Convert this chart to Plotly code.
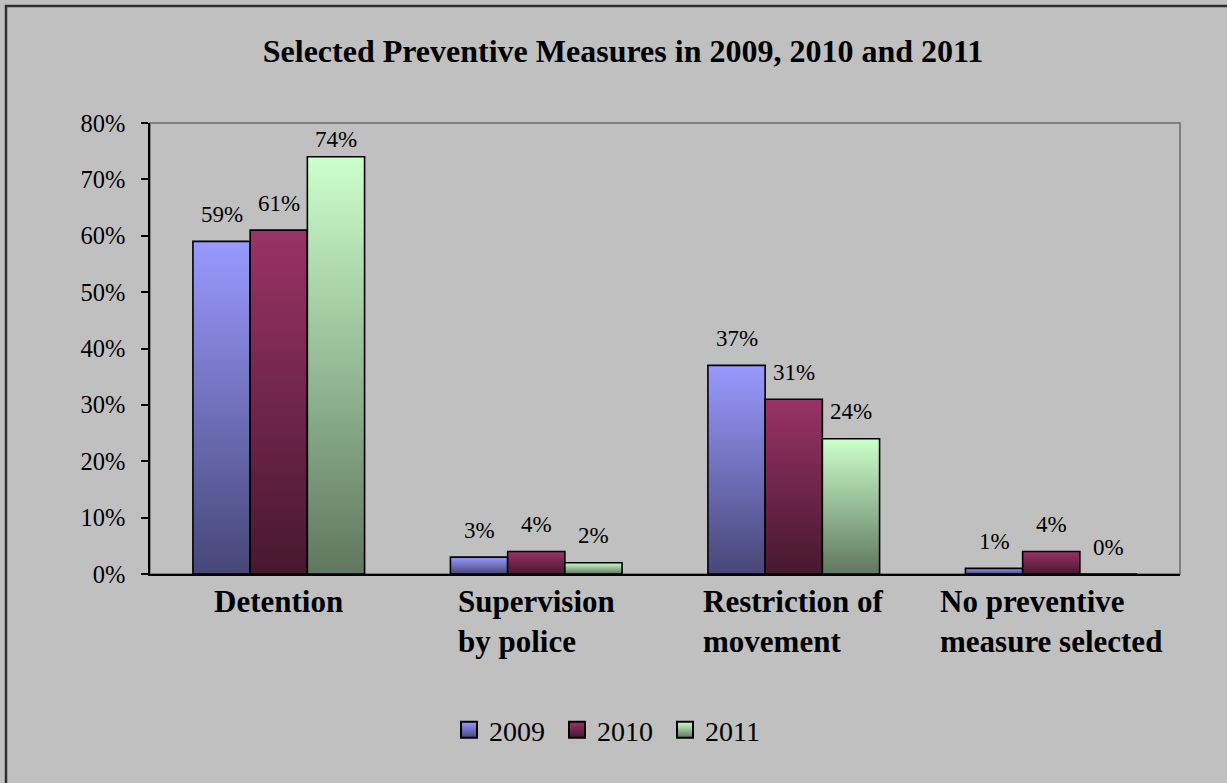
import plotly.graph_objects as go

# Chart data
category_lines = [
    ["Detention"],
    ["Supervision", "by police"],
    ["Restriction of", "movement"],
    ["No preventive", "measure selected"],
]
years = ["2009", "2010", "2011"]
share_2009 = [0.59, 0.03, 0.37, 0.01]
share_2010 = [0.61, 0.04, 0.31, 0.04]
share_2011 = [0.74, 0.02, 0.24, 0.00]
y_tick_values = [0.0, 0.1, 0.2, 0.3, 0.4, 0.5, 0.6, 0.7, 0.8]
y_tick_labels = ["0%", "10%", "20%", "30%", "40%", "50%", "60%", "70%", "80%"]

series = [share_2009, share_2010, share_2011]
top_colors = ["#9999FF", "#993366", "#CCFFCC"]
bottom_colors = ["#474778", "#471830", "#5F775F"]

FONT = "Liberation Serif, Times New Roman, serif"
BG = "#C0C0C0"

# geometry of the plot area in pixels
W, H = 1227, 783
L, R, T, B = 150, 47, 123, 209
pw, ph = W - L - R, H - T - B
Y_MAX = 0.8


def px_x(p):
    return (p - L) / pw


def px_y(p):
    return (H - B - p) / ph


n_series = len(series)
bar_w = 1 / 4.5  # bar width in category units
LABEL_GAP = 27   # value label centre above the bar top (px)
LABEL_MIN_TOP = 17  # keep value labels inside the plot area

fig = go.Figure()

annotations = []
for s, (vals, name) in enumerate(zip(series, years)):
    for c, v in enumerate(vals):
        center = c + (s - (n_series - 1) / 2) * bar_w
        x0, x1 = center - bar_w / 2, center + bar_w / 2
        fig.add_trace(go.Scatter(
            x=[x0, x0, x1, x1, x0],
            y=[0, v, v, 0, 0],
            mode="lines",
            fill="toself",
            fillgradient=dict(
                type="vertical",
                colorscale=[[0, bottom_colors[s]], [1, top_colors[s]]],
            ),
            line=dict(color="black", width=1.6),
            showlegend=False,
            hoverinfo="skip",
        ))
        room = (Y_MAX - v) / Y_MAX * ph - LABEL_MIN_TOP
        annotations.append(dict(
            x=center, y=v, xref="x", yref="y",
            text=f"{round(v * 100)}%",
            showarrow=False, yanchor="middle", yshift=min(LABEL_GAP, room),
            font=dict(family=FONT, size=23, color="black"),
        ))
    # legend entry for the series
    fig.add_trace(go.Scatter(
        x=[None], y=[None], mode="markers", name=name,
        marker=dict(
            symbol="square", size=16, color=top_colors[s],
            gradient=dict(type="vertical", color=bottom_colors[s]),
            line=dict(color="black", width=2),
        ),
    ))

for c, lines in enumerate(category_lines):
    annotations.append(dict(
        x=c, y=0, xref="x", yref="y",
        text="<b>" + "<br>".join(lines) + "</b>",
        showarrow=False, yanchor="top", xanchor="center", align="left",
        yshift=-8,
        font=dict(family=FONT, size=31, color="black"),
    ))

shapes = [
    # plot-area frame (grey top/right edges)
    dict(type="rect", xref="paper", yref="paper", x0=0, x1=1, y0=0, y1=1,
         line=dict(color="#808080", width=2), layer="below"),
    # outer chart frame
    dict(type="rect", xref="paper", yref="paper",
         x0=px_x(6), x1=px_x(1245), y0=px_y(800), y1=px_y(6),
         line=dict(color="#303030", width=2.5), layer="below"),
]

fig.update_layout(
    width=W, height=H,
    margin=dict(l=L, r=R, t=T, b=B, pad=0),
    paper_bgcolor=BG, plot_bgcolor=BG,
    title=dict(
        text="<b>Selected Preventive Measures in 2009, 2010 and 2011</b>",
        font=dict(family=FONT, size=32, color="black"),
        x=623 / W, xanchor="center", xref="container",
        y=1 - 51 / H, yanchor="middle", yref="container",
    ),
    xaxis=dict(
        range=[-0.5, len(category_lines) - 0.5],
        showgrid=False, zeroline=False, showticklabels=False, ticks="",
        showline=True, linecolor="black", linewidth=1.6,
        fixedrange=True,
    ),
    yaxis=dict(
        range=[0, Y_MAX], tickvals=y_tick_values, ticktext=y_tick_labels,
        showgrid=False, zeroline=False,
        showline=True, linecolor="black", linewidth=1.6,
        ticks="outside", ticklen=7, tickwidth=1.6, tickcolor="black",
        ticklabelstandoff=11,
        tickfont=dict(family=FONT, size=24.5, color="black"),
        fixedrange=True,
    ),
    legend=dict(
        orientation="h", xref="container", yref="container",
        x=611 / W, xanchor="center", y=1 - 730 / H, yanchor="middle",
        font=dict(family=FONT, size=28, color="black"),
        bgcolor="rgba(0,0,0,0)", itemwidth=30,
        entrywidth=63, entrywidthmode="pixels",
    ),
    annotations=annotations,
    shapes=shapes,
    showlegend=True,
)

fig.write_html("out.html")
